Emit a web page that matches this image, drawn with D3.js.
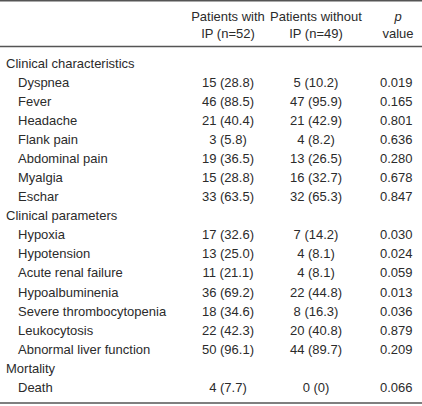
<!DOCTYPE html>
<html>
<head>
<meta charset="utf-8">
<script src="https://cdn.jsdelivr.net/npm/d3@7"></script>
<style>
  html, body { margin: 0; padding: 0; background: #fff; }
  svg { display: block; }
  text { font-family: "Liberation Sans", Arial, sans-serif; font-size: 13px; fill: #2b2b2b; }
</style>
</head>
<body>
<svg id="chart" width="422" height="406"></svg>
<script>
// ---- data ----
const columnHeaders = [
  ["Patients with", "IP (n=52)"],
  ["Patients without", "IP (n=49)"],
  ["p", "value"]
];
const rowLabels = [
  "Clinical characteristics",
  "Dyspnea", "Fever", "Headache", "Flank pain", "Abdominal pain", "Myalgia", "Eschar",
  "Clinical parameters",
  "Hypoxia", "Hypotension", "Acute renal failure", "Hypoalbuminenia",
  "Severe thrombocytopenia", "Leukocytosis", "Abnormal liver function",
  "Mortality",
  "Death"
];
const isSection = [true, false, false, false, false, false, false, false,
  true, false, false, false, false, false, false, false, true, false];
const withIP = ["", "15 (28.8)", "46 (88.5)", "21 (40.4)", "3 (5.8)", "19 (36.5)", "15 (28.8)", "33 (63.5)",
  "", "17 (32.6)", "13 (25.0)", "11 (21.1)", "36 (69.2)", "18 (34.6)", "22 (42.3)", "50 (96.1)",
  "", "4 (7.7)"];
const withoutIP = ["", "5 (10.2)", "47 (95.9)", "21 (42.9)", "4 (8.2)", "13 (26.5)", "16 (32.7)", "32 (65.3)",
  "", "7 (14.2)", "4 (8.1)", "4 (8.1)", "22 (44.8)", "8 (16.3)", "20 (40.8)", "44 (89.7)",
  "", "0 (0)"];
const pValues = ["", "0.019", "0.165", "0.801", "0.636", "0.280", "0.678", "0.847",
  "", "0.030", "0.024", "0.059", "0.013", "0.036", "0.879", "0.209",
  "", "0.066"];

// ---- layout ----
const W = 422, H = 406;
const svg = d3.select("#chart");

const colKeys = ["with", "without", "p"];
const colX = d3.scaleOrdinal().domain(colKeys).range([228, 316, 398]);

const rowY = d3.scalePoint()
  .domain(d3.range(rowLabels.length))
  .range([67.5, 392]);

const ruleColor = "#555";
[0.75, 46.5, 403].forEach(y => {
  svg.append("line")
    .attr("x1", 0).attr("x2", W)
    .attr("y1", y).attr("y2", y)
    .attr("stroke", ruleColor).attr("stroke-width", 1.5);
});

// header
const headerG = svg.append("g");
columnHeaders.forEach((h, i) => {
  const x = colX(colKeys[i]);
  const t1 = headerG.append("text")
    .attr("x", x).attr("y", 20.5)
    .attr("text-anchor", "middle")
    .text(h[0]);
  if (i === 2) t1.style("font-style", "italic");
  headerG.append("text")
    .attr("x", x).attr("y", 38)
    .attr("text-anchor", "middle")
    .text(h[1]);
});

// rows
const rows = svg.append("g").selectAll("g")
  .data(rowLabels.map((l, i) => ({ i, label: l, sec: isSection[i], a: withIP[i], b: withoutIP[i], p: pValues[i] })))
  .join("g")
  .attr("transform", d => `translate(0,${rowY(d.i)})`);

rows.append("text")
  .attr("x", d => d.sec ? 6 : 18)
  .text(d => d.label);

rows.append("text")
  .attr("x", colX("with"))
  .attr("text-anchor", "middle")
  .text(d => d.a);

rows.append("text")
  .attr("x", colX("without"))
  .attr("text-anchor", "middle")
  .text(d => d.b);

rows.append("text")
  .attr("x", 412.5)
  .attr("text-anchor", "end")
  .text(d => d.p);
</script>
</body>
</html>
